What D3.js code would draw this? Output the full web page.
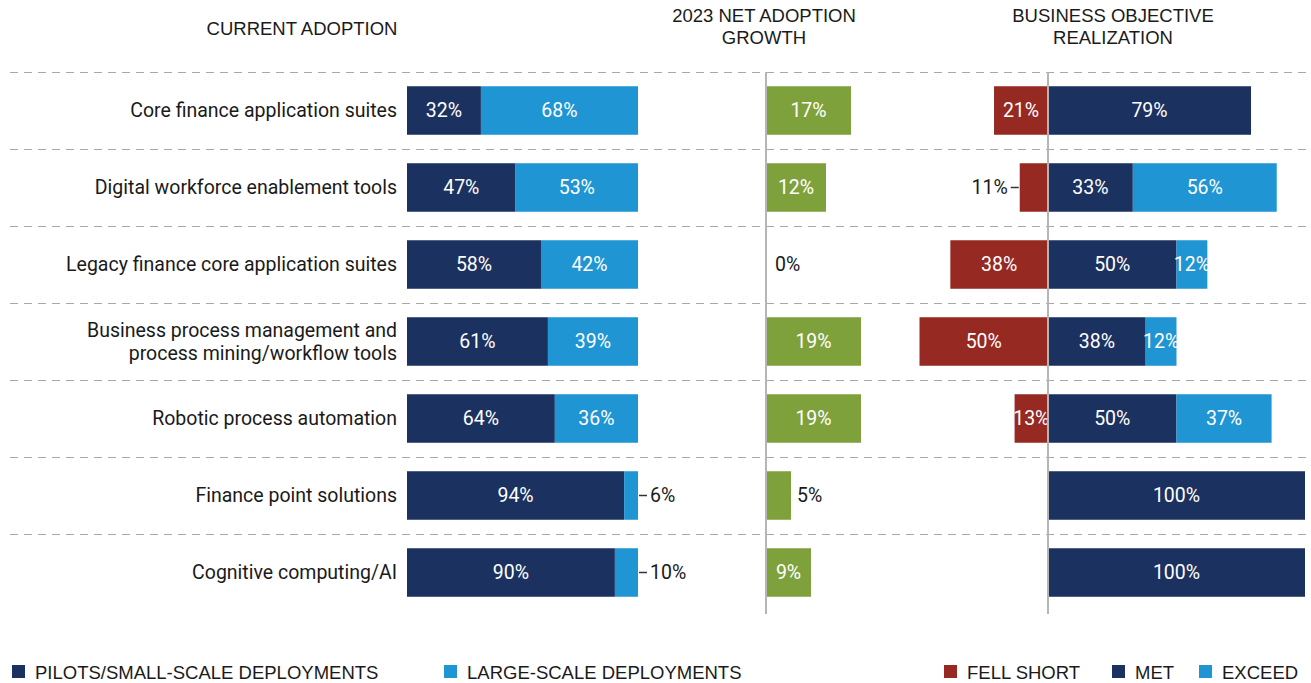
<!DOCTYPE html>
<html>
<head>
<meta charset="utf-8">
<script src="https://cdn.jsdelivr.net/npm/d3@7"></script>
<style>
  body { margin: 0; background: #fff; }
  svg { display: block; }
  .cond { font-family: "Liberation Sans Narrow", "Arial Narrow", "Liberation Sans", sans-serif; }
  .reg { font-family: Roboto, "Liberation Sans", sans-serif; }
</style>
</head>
<body>
<div id="chart"></div>
<script>
// Data
const categories = [
    ["Core finance application suites"],
    ["Digital workforce enablement tools"],
    ["Legacy finance core application suites"],
    ["Business process management and", "process mining/workflow tools"],
    ["Robotic process automation"],
    ["Finance point solutions"],
    ["Cognitive computing/AI"]
];
const pilots = [32, 47, 58, 61, 64, 94, 90];
const largeScale = [68, 53, 42, 39, 36, 6, 10];
const netGrowth = [17, 12, 0, 19, 19, 5, 9];
const fellShort = [21, 11, 38, 50, 13, 0, 0];
const met = [79, 33, 50, 38, 50, 100, 100];
const exceed = [0, 56, 12, 12, 37, 0, 0];

const colors = {
    navy: "#1b3160",
    blue: "#1f95d3",
    red: "#962922",
    green: "#7fa13c",
    text: "#1a1a1a",
    grid: "#a8a8a8",
    axis: "#b5b5b5"
};

const FS = 19.5; // label font size

const width = 1311, height = 683;
const svg = d3.select("#chart").append("svg")
    .attr("width", width)
    .attr("height", height);

// Row scale
const y = d3.scaleBand()
    .domain(d3.range(categories.length))
    .range([72, 611])
    .paddingInner(0.37)
    .paddingOuter(0.185);
const rowStep = y.step();
const bh = y.bandwidth();

// Column scales
const xAdopt = d3.scaleLinear().domain([0, 100]).range([407, 638]);
const xGrowth = d3.scaleLinear().domain([0, 100]).range([766, 1266]);
const xBiz = d3.scaleLinear().domain([-100, 100]).range([791, 1305]);

// Dashed separators
const seps = d3.range(categories.length).map(i => y(i) - (rowStep - bh) / 2);
svg.append("g").selectAll("line")
    .data(seps)
    .join("line")
    .attr("x1", 10).attr("x2", width)
    .attr("y1", d => Math.round(d) + 0.5).attr("y2", d => Math.round(d) + 0.5)
    .attr("stroke", colors.grid)
    .attr("stroke-width", 1.2)
    .attr("stroke-dasharray", "8,6");

// Headers
function header(lines, cx, y0) {
    const t = svg.append("text")
        .attr("class", "cond")
        .attr("text-anchor", "middle")
        .attr("font-size", 18.5)
        .attr("fill", colors.text);
    lines.forEach((l, i) => {
        t.append("tspan").attr("x", cx).attr("y", y0 + i * 22).text(l);
    });
}
header(["CURRENT ADOPTION"], 302, 35);
header(["2023 NET ADOPTION", "GROWTH"], 764, 22);
header(["BUSINESS OBJECTIVE", "REALIZATION"], 1113, 22);

// Category labels
const cy = i => y(i) + bh / 2;
categories.forEach((lines, i) => {
    const t = svg.append("text")
        .attr("class", "reg")
        .attr("text-anchor", "end")
        .attr("font-size", FS)
        .attr("fill", colors.text);
    const off = (lines.length - 1) * 11.5;
    lines.forEach((l, j) => {
        t.append("tspan")
            .attr("x", 397)
            .attr("y", cy(i) - off + j * 23)
            .attr("dy", "0.35em")
            .text(l);
    });
});

// Generic segment drawer
function segment(g, x0, x1, i, fill, val, outside) {
    g.append("rect")
        .attr("x", Math.min(x0, x1))
        .attr("y", y(i))
        .attr("width", Math.abs(x1 - x0))
        .attr("height", bh)
        .attr("fill", fill);
    if (val === null) return;
    if (outside === "right") {
        g.append("line")
            .attr("x1", Math.max(x0, x1) + 1).attr("x2", Math.max(x0, x1) + 9)
            .attr("y1", cy(i)).attr("y2", cy(i))
            .attr("stroke", "#333").attr("stroke-width", 1.5);
        g.append("text").attr("class", "reg")
            .attr("x", Math.max(x0, x1) + 12).attr("y", cy(i)).attr("dy", "0.35em")
            .attr("font-size", FS).attr("fill", colors.text)
            .text(val + "%");
    } else if (outside === "left") {
        g.append("line")
            .attr("x1", Math.min(x0, x1) - 9).attr("x2", Math.min(x0, x1) - 1)
            .attr("y1", cy(i)).attr("y2", cy(i))
            .attr("stroke", "#333").attr("stroke-width", 1.5);
        g.append("text").attr("class", "reg")
            .attr("x", Math.min(x0, x1) - 12).attr("y", cy(i)).attr("dy", "0.35em")
            .attr("text-anchor", "end")
            .attr("font-size", FS).attr("fill", colors.text)
            .text(val + "%");
    } else {
        g.append("text").attr("class", "reg")
            .attr("x", (x0 + x1) / 2).attr("y", cy(i)).attr("dy", "0.35em")
            .attr("text-anchor", "middle")
            .attr("font-size", FS).attr("fill", "#fff")
            .text(val + "%");
    }
}

// Current adoption
const gA = svg.append("g");
categories.forEach((c, i) => {
    segment(gA, xAdopt(0), xAdopt(pilots[i]), i, colors.navy, pilots[i]);
    segment(gA, xAdopt(pilots[i]), xAdopt(pilots[i] + largeScale[i]), i, colors.blue,
        largeScale[i], largeScale[i] < 15 ? "right" : null);
});

// Net adoption growth
const gG = svg.append("g");
gG.append("line")
    .attr("x1", xGrowth(0)).attr("x2", xGrowth(0))
    .attr("y1", 72).attr("y2", 614)
    .attr("stroke", colors.axis).attr("stroke-width", 2);
netGrowth.forEach((v, i) => {
    if (v === 0) {
        gG.append("text").attr("class", "reg")
            .attr("x", xGrowth(0) + 9).attr("y", cy(i)).attr("dy", "0.35em")
            .attr("font-size", FS).attr("fill", colors.text).text(v + "%");
        return;
    }
    gG.append("rect")
        .attr("x", xGrowth(0) + 1).attr("y", y(i))
        .attr("width", xGrowth(v) - xGrowth(0) - 1).attr("height", bh)
        .attr("fill", colors.green);
    const inside = v >= 8;
    gG.append("text").attr("class", "reg")
        .attr("x", inside ? (xGrowth(0) + xGrowth(v)) / 2 : xGrowth(v) + 6)
        .attr("y", cy(i)).attr("dy", "0.35em")
        .attr("text-anchor", inside ? "middle" : "start")
        .attr("font-size", FS)
        .attr("fill", inside ? "#fff" : colors.text)
        .text(v + "%");
});

// Business objective realization
const gB = svg.append("g");
categories.forEach((c, i) => {
    if (fellShort[i] > 0)
        segment(gB, xBiz(-fellShort[i]), xBiz(0), i, colors.red, fellShort[i],
            fellShort[i] < 12 ? "left" : null);
    segment(gB, xBiz(0), xBiz(met[i]), i, colors.navy, met[i]);
    if (exceed[i] > 0)
        segment(gB, xBiz(met[i]), xBiz(met[i] + exceed[i]), i, colors.blue, exceed[i]);
});
gB.append("line")
    .attr("x1", xBiz(0)).attr("x2", xBiz(0))
    .attr("y1", 72).attr("y2", 614)
    .attr("stroke", colors.axis).attr("stroke-width", 2);

// Legends
const legendItems = [
    { label: "PILOTS/SMALL-SCALE DEPLOYMENTS", color: colors.navy, x: 12 },
    { label: "LARGE-SCALE DEPLOYMENTS", color: colors.blue, x: 444 },
    { label: "FELL SHORT", color: colors.red, x: 944 },
    { label: "MET", color: colors.navy, x: 1112 },
    { label: "EXCEED", color: colors.blue, x: 1199 }
];
const lg = svg.append("g").selectAll("g")
    .data(legendItems)
    .join("g")
    .attr("transform", d => `translate(${d.x},665)`);
lg.append("rect").attr("width", 13).attr("height", 13).attr("fill", d => d.color);
lg.append("text").attr("class", "cond")
    .attr("x", 23).attr("y", 8).attr("dy", "0.35em")
    .attr("font-size", 18.5).attr("fill", colors.text)
    .text(d => d.label);
</script>
</body>
</html>
